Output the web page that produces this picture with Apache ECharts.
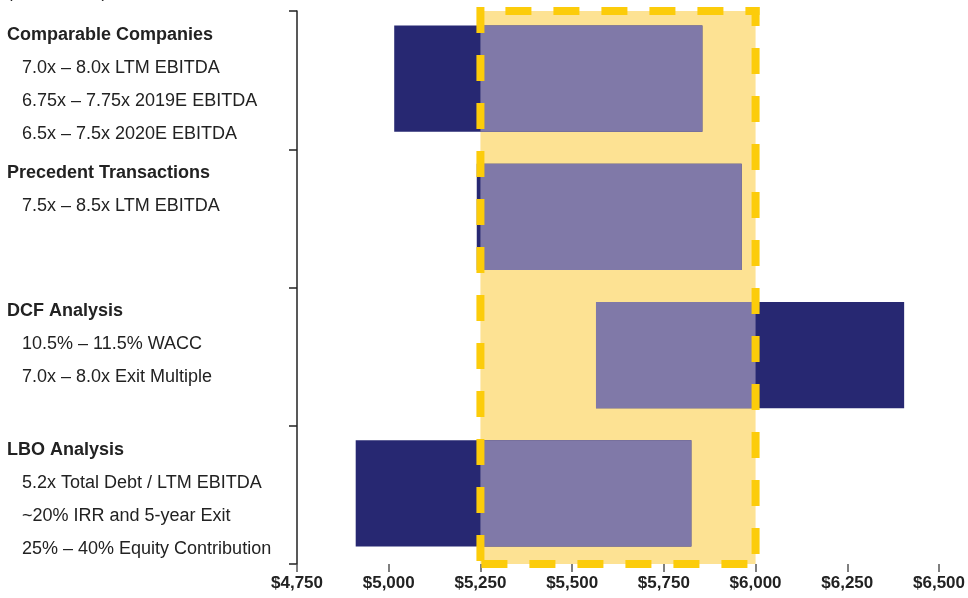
<!DOCTYPE html>
<html>
<head>
<meta charset="utf-8">
<script src="https://cdn.jsdelivr.net/npm/echarts@6/dist/echarts.min.js"></script>
<style>
  html, body { margin: 0; padding: 0; background: #fff; }
  #chart { width: 968px; height: 598px; }
</style>
</head>
<body>
<div id="chart"></div>
<script>
const groups = ['Comparable Companies', 'Precedent Transactions', 'DCF Analysis', 'LBO Analysis']
const details = [
  ['7.0x – 8.0x LTM EBITDA', '6.75x – 7.75x 2019E EBITDA', '6.5x – 7.5x 2020E EBITDA'],
  ['7.5x – 8.5x LTM EBITDA'],
  ['10.5% – 11.5% WACC', '7.0x – 8.0x Exit Multiple'],
  ['5.2x Total Debt / LTM EBITDA', '~20% IRR and 5-year Exit', '25% – 40% Equity Contribution']
]
const lows = [5015, 5240, 5565, 4910]
const highs = [5855, 5962, 6405, 5825]
const selectedRange = [5250, 6000]
const xMin = 4750
const xMax = 6500
const xStep = 250

const NAVY = '#272872'
const LAVENDER = '#8079a8'
const FILL = '#fde293'
const GOLD = '#fccc0a'
const FONT = '"Liberation Sans", Arial, sans-serif'

const chart = echarts.init(document.getElementById('chart'))

const barData = groups.map((g, i) => [i, lows[i], highs[i]])

function renderBar(params, api) {
  const cat = api.value(0)
  const lo = api.value(1)
  const hi = api.value(2)
  const p0 = api.coord([lo, cat])
  const p1 = api.coord([hi, cat])
  const h = api.size([0, 1])[1] * 0.77
  const y = p0[1] - h / 2 - 1.5
  const children = [{
    type: 'rect',
    shape: { x: p0[0], y, width: p1[0] - p0[0], height: h },
    style: { fill: NAVY }
  }]
  // part of the bar inside the selected range is drawn lighter
  const a = Math.max(lo, selectedRange[0])
  const b = Math.min(hi, selectedRange[1])
  if (b > a) {
    const q0 = api.coord([a, cat])
    const q1 = api.coord([b, cat])
    children.push({
      type: 'rect',
      shape: { x: q0[0], y, width: q1[0] - q0[0], height: h },
      style: { fill: LAVENDER }
    })
  }
  return { type: 'group', children }
}

function renderRegionFill(params, api) {
  const cs = params.coordSys
  const x0 = api.coord([api.value(0), 0])[0]
  const x1 = api.coord([api.value(1), 0])[0]
  return {
    type: 'rect',
    shape: { x: x0, y: cs.y, width: x1 - x0, height: cs.height },
    style: { fill: FILL }
  }
}

function renderRegionBorder(params, api) {
  const cs = params.coordSys
  const x0 = api.coord([api.value(0), 0])[0]
  const x1 = api.coord([api.value(1), 0])[0]
  const top = cs.y
  const bottom = cs.y + cs.height
  const dash = (off) => ({ stroke: GOLD, lineWidth: 8, lineDash: [26, 22], lineDashOffset: off })
  return {
    type: 'group',
    children: [
      { type: 'line', shape: { x1: x0, y1: top, x2: x1 + 4, y2: top }, style: dash(23) },
      { type: 'line', shape: { x1: x1, y1: top - 4, x2: x1, y2: bottom }, style: dash(7) },
      { type: 'line', shape: { x1: x0, y1: bottom, x2: x1, y2: bottom }, style: dash(47) },
      { type: 'line', shape: { x1: x0, y1: top - 4, x2: x0, y2: bottom + 4 }, style: dash(0) }
    ]
  }
}

chart.setOption({
  animation: false,
  grid: { left: 297, right: 29, top: 11, bottom: 34 },
  xAxis: {
    type: 'value',
    min: xMin,
    max: xMax,
    interval: xStep,
    splitLine: { show: false },
    axisLine: { lineStyle: { color: '#666', width: 2 } },
    axisTick: { show: true, length: 8, lineStyle: { color: '#555', width: 1.5 } },
    axisLabel: {
      margin: 11,
      color: '#222',
      fontFamily: FONT,
      fontWeight: 'bold',
      fontSize: 17,
      formatter: v => '$' + v.toLocaleString('en-US')
    }
  },
  yAxis: {
    type: 'category',
    data: groups,
    inverse: true,
    axisLine: { lineStyle: { color: '#222', width: 1.5 } },
    axisTick: { show: true, length: 8, lineStyle: { color: '#222', width: 1.5 } },
    axisLabel: { show: false },
    splitLine: { show: false }
  },
  series: [
    {
      type: 'custom',
      z: 1,
      silent: true,
      renderItem: renderRegionFill,
      encode: { x: [0, 1] },
      data: [selectedRange]
    },
    {
      type: 'custom',
      z: 2,
      silent: true,
      renderItem: renderBar,
      encode: { x: [1, 2], y: 0 },
      data: barData
    },
    {
      type: 'custom',
      z: 3,
      silent: true,
      clip: false,
      renderItem: renderRegionBorder,
      encode: { x: [0, 1] },
      data: [selectedRange]
    }
  ]
})

// left-hand labels, placed relative to each category band
const c0 = chart.convertToPixel({ yAxisIndex: 0 }, 0)
const c1 = chart.convertToPixel({ yAxisIndex: 0 }, 1)
const band = c1 - c0
const graphic = [{
  type: 'text',
  x: 7,
  y: -7,
  style: { text: '($ in millions)', font: '17px ' + FONT, fill: '#222', verticalAlign: 'middle' }
}]
groups.forEach((g, i) => {
  const top = chart.convertToPixel({ yAxisIndex: 0 }, i) - band / 2 + 24
  graphic.push({
    type: 'text',
    x: 7,
    y: top,
    style: { text: g, font: 'bold 18px ' + FONT, fill: '#222', verticalAlign: 'middle' }
  })
  details[i].forEach((d, j) => {
    graphic.push({
      type: 'text',
      x: 22,
      y: top + 33 * (j + 1),
      style: { text: d, font: '18px ' + FONT, fill: '#222', verticalAlign: 'middle' }
    })
  })
})
chart.setOption({ graphic })
</script>
</body>
</html>
